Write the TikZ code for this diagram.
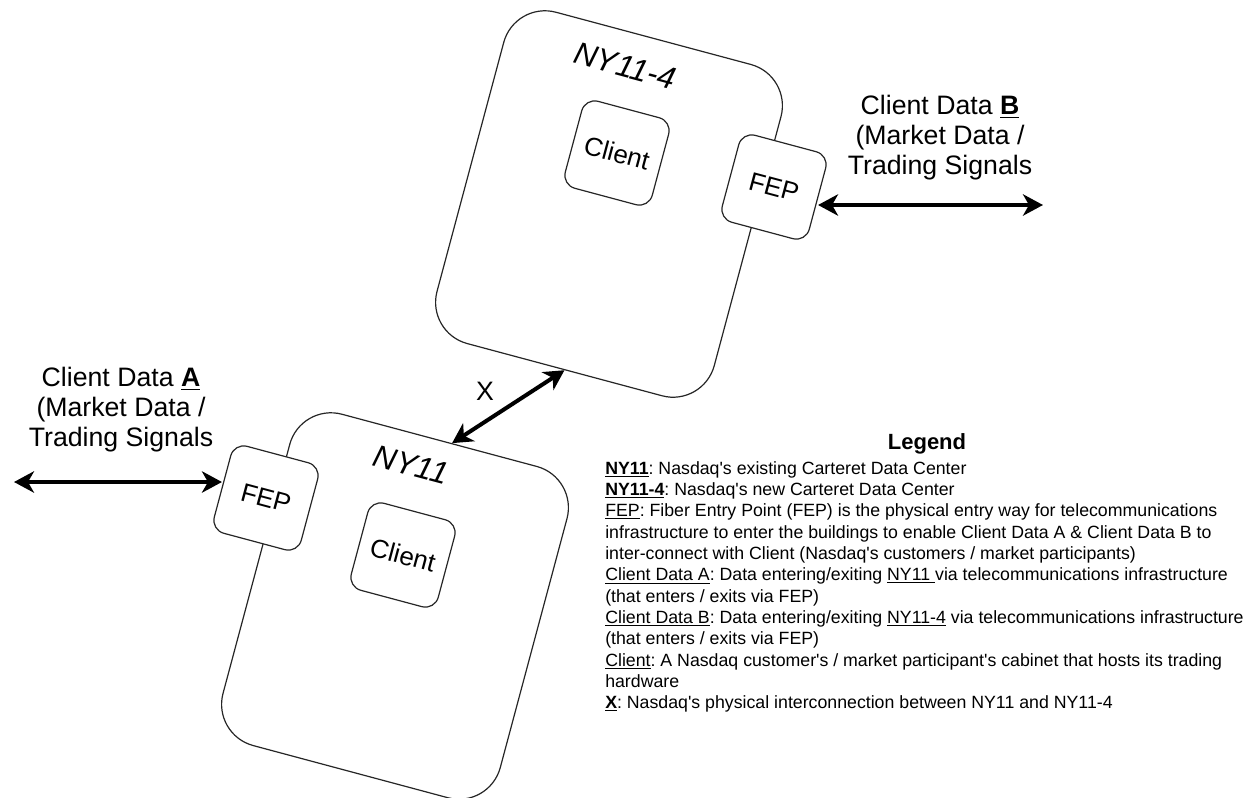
\documentclass[tikz,border=0pt]{standalone}
\usepackage{fontspec}
\setmainfont{Liberation Sans}
\usetikzlibrary{arrows.meta,calc}
\newcommand\aq{\textquotesingle}
\frenchspacing
\begin{document}
\begin{tikzpicture}[x=0.75pt,y=-0.75pt,
  bld/.style={draw=black!85, line width=0.9pt, fill=white, rounded corners=32pt,
    minimum width=215.25pt, minimum height=257.25pt, rotate=-15, inner sep=0pt},
  sub/.style={draw=black!85, line width=0.9pt, fill=white, rounded corners=10pt,
    minimum width=67.5pt, minimum height=67.5pt, rotate=-15, inner sep=0pt,
    font=\fontsize{19.5}{23}\selectfont},
  bldlabel/.style={rotate=-15, inner sep=0pt, font=\fontsize{23.5}{27}\selectfont\itshape},
  biglabel/.style={align=center, inner sep=0pt, font=\fontsize{20}{22.5}\selectfont},
  dataarrow/.style={arrows={Stealth[length=15pt,width=16pt,inset=4.5pt]-Stealth[length=15pt,width=16pt,inset=4.5pt]},
    line width=3pt}
]
\useasboundingbox (0,0) rectangle (1260,797);
\fill[white] (0,0) rectangle (1260,797);

% buildings
\node[bld] (ny114) at (609,204) {};
\node[bld] (ny11) at (395,606) {};

% inner boxes
\node[sub] (cl4) at (617,153) {Client};
\node[sub] (fep4) at (774,187) {FEP};
\node[sub] (cl11) at (403,555) {Client};
\node[sub] (fep11) at (266,498) {FEP};

% building labels
\node[bldlabel] (lab4) at (625,66) {NY11-4};
\node[bldlabel] (lab11) at (411,465) {NY11};

% client data labels
\node[biglabel] (cda) at (121,410) {Client Data \textbf{\underline{A}}\\(Market Data /\\Trading Signals};
\node[biglabel] (cdb) at (940,138) {Client Data \textbf{\underline{B}}\\(Market Data /\\Trading Signals};

% arrows
\coordinate (aend) at (14,482);
\draw[dataarrow] (aend) -- (aend -| fep11.west);
\coordinate (bend) at (1043,205);
\draw[dataarrow] (fep4.east |- bend) -- (bend);
\draw[dataarrow] ($(ny11.north)!0.09!(ny11.north east)$) -- (ny114.south);
\node[font=\fontsize{20}{22}\selectfont] (xlab) at (485,391) {X};

% legend
\node[font=\fontsize{16.5}{19}\selectfont\bfseries] (legtitle) at (927,444) {Legend};
\node[anchor=north west, align=left, inner sep=0pt, font=\fontsize{13.3}{16}\selectfont] (legend) at (605,461) {%
\textbf{\underline{NY11}}: Nasdaq\aq s existing Carteret Data Center\\
\textbf{\underline{NY11-4}}: Nasdaq\aq s new Carteret Data Center\\
\underline{FEP}: Fiber Entry Point (FEP) is the physical entry way for telecommunications\\
infrastructure to enter the buildings to enable Client Data A \& Client Data B to\\
inter-connect with Client (Nasdaq\aq s customers / market participants)\\
\underline{Client Data A}: Data entering/exiting \underline{NY11\ }via telecommunications infrastructure\\
(that enters / exits via FEP)\\
\underline{Client Data B}: Data entering/exiting \underline{NY11-4} via telecommunications infrastructure\\
(that enters / exits via FEP)\\
\underline{Client}: A Nasdaq customer\aq s / market participant\aq s cabinet that hosts its trading\\
hardware\\
\textbf{\underline{X}}: Nasdaq\aq s physical interconnection between NY11 and NY11-4};
\end{tikzpicture}
\end{document}
